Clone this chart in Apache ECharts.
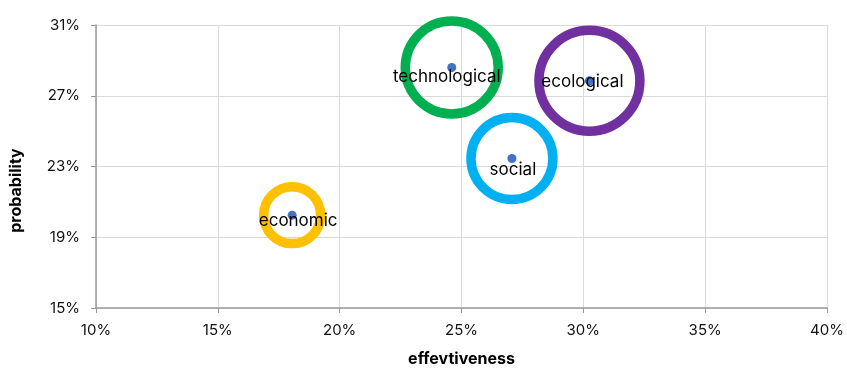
<!DOCTYPE html>
<html>
<head>
<meta charset="utf-8">
<script src="https://cdn.jsdelivr.net/npm/echarts@6/dist/echarts.min.js"></script>
<style>
  html, body { margin: 0; padding: 0; background: #fff; overflow: hidden; }
  #chart { width: 847px; height: 372px; }
</style>
</head>
<body>
<div id="chart"></div>
<script>
// Four policy dimensions: effectiveness (%) vs probability (%), bubble weight
const categories = ['economic', 'technological', 'social', 'ecological'];
const effectiveness = [18.05, 24.6, 27.07, 30.25];
const probability = [20.25, 28.6, 23.45, 27.85];
const weight = [3.25, 8.65, 6.72, 10.2];
const ringColors = ['#FFC000', '#00B050', '#00B0F0', '#7030A0'];
const xTicks = { min: 10, max: 40, step: 5 };
const yTicks = { min: 15, max: 31, step: 4 };

// label nudges so the names sit inside their rings
const labelNudge = [[6, 6], [-5, 9], [1, 11], [-7, 1]];

const FONT = 'Inter, "Noto Sans", sans-serif';
const chart = echarts.init(document.getElementById('chart'));

const ringData = categories.map((c, i) => ({
  name: c,
  value: [effectiveness[i], probability[i], weight[i]],
  itemStyle: { color: 'rgba(0,0,0,0)', borderColor: ringColors[i], borderWidth: 9.5, opacity: 1 }
}));

const dotData = categories.map((c, i) => ({
  name: c,
  value: [effectiveness[i], probability[i]],
  label: { offset: labelNudge[i] }
}));

chart.setOption({
  animation: false,
  grid: { left: 96, right: 20, top: 25, bottom: 63 },
  xAxis: {
    type: 'value',
    min: xTicks.min, max: xTicks.max, interval: xTicks.step,
    name: 'effevtiveness',
    nameLocation: 'middle',
    nameGap: 43,
    nameTextStyle: { fontFamily: FONT, fontWeight: 'bold', fontSize: 16, color: '#000' },
    axisLine: { lineStyle: { color: '#9a9a9a', width: 1.5 } },
    axisTick: { show: true, length: 5, lineStyle: { color: '#9a9a9a' } },
    axisLabel: { formatter: '{value}%', fontFamily: FONT, fontSize: 15, color: '#111', margin: 15 },
    splitLine: { show: true, lineStyle: { color: '#dadada', width: 1 } }
  },
  yAxis: {
    type: 'value',
    min: yTicks.min, max: yTicks.max, interval: yTicks.step,
    name: 'probability',
    nameLocation: 'middle',
    nameGap: 72,
    nameRotate: 90,
    nameTextStyle: { fontFamily: FONT, fontWeight: 'bold', fontSize: 16, color: '#000', padding: [0, 48, 0, 0] },
    axisLine: { show: true, lineStyle: { color: '#9a9a9a', width: 1.5 } },
    axisTick: { show: true, length: 5, lineStyle: { color: '#9a9a9a' } },
    axisLabel: { formatter: '{value}%', fontFamily: FONT, fontSize: 15, color: '#111', margin: 16 },
    splitLine: { show: true, lineStyle: { color: '#dadada', width: 1 } }
  },
  series: [
    {
      name: 'rings',
      type: 'scatter',
      symbol: 'circle',
      symbolSize: v => Math.sqrt(v[2]) * 31.6,
      data: ringData,
      silent: true
    },
    {
      name: 'points',
      type: 'scatter',
      symbol: 'circle',
      symbolSize: 9,
      itemStyle: { color: '#4472C4', opacity: 1 },
      label: {
        show: true,
        position: 'inside',
        formatter: p => p.name,
        fontFamily: FONT,
        fontSize: 17,
        color: '#000',
        textBorderWidth: 0
      },
      data: dotData,
      z: 3
    }
  ]
});
</script>
</body>
</html>
